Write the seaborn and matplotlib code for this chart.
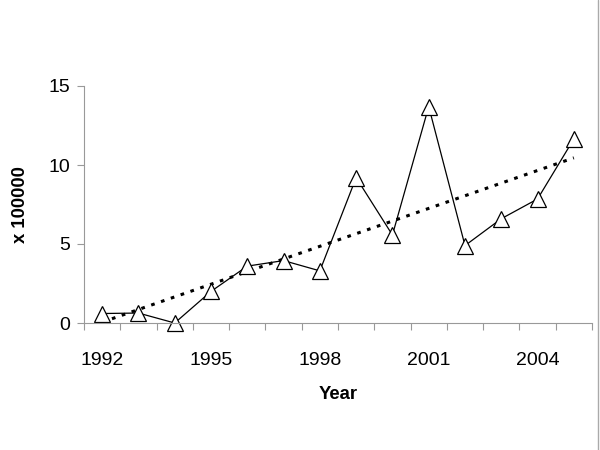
import numpy as np
import pandas as pd
import matplotlib
matplotlib.use("Agg")
import matplotlib.pyplot as plt
import seaborn as sns

# values (units of 100000)
years = [1992, 1993, 1994, 1995, 1996, 1997, 1998, 1999, 2000, 2001, 2002, 2003, 2004, 2005]
values = [0.6, 0.63, 0.0, 2.0, 3.6, 3.95, 3.3, 9.2, 5.57, 13.7, 4.9, 6.6, 7.85, 11.65]
year_labels = [1992, 1995, 1998, 2001, 2004]
y_ticks = [0, 5, 10, 15]

df = pd.DataFrame({"Year": years, "Value": values})

sns.set_theme(style="white")
plt.rcParams["font.family"] = ["Liberation Sans", "DejaVu Sans"]
plt.rcParams["text.color"] = "black"
plt.rcParams["axes.labelcolor"] = "black"
plt.rcParams["xtick.color"] = "black"
plt.rcParams["ytick.color"] = "black"

fig = plt.figure(figsize=(6, 4.5), dpi=100)
ax = fig.add_axes([84 / 600, 1 - 323 / 450, 508 / 600, 237 / 450])

# linear trend (dotted)
sns.regplot(data=df, x="Year", y="Value", scatter=False, ci=None, ax=ax,
            line_kws=dict(color="black", lw=2.2, linestyle=(0, (1.2, 2.2))))

# data series
sns.lineplot(data=df, x="Year", y="Value", ax=ax, color="black", lw=0.9,
             marker="^", markersize=11, markerfacecolor="white",
             markeredgecolor="black", markeredgewidth=0.9, clip_on=False)

ax.set_xlim(years[0] - 0.5, years[-1] + 0.5)
ax.set_ylim(0, 15)

# category-style axis: ticks at boundaries, labels at centres
ax.set_xticks(np.arange(years[0] - 0.5, years[-1] + 1, 1))
ax.set_xticklabels([])
ax.set_xticks(year_labels, minor=True)
ax.set_xticklabels([str(y) for y in year_labels], minor=True)
ax.tick_params(axis="x", which="major", bottom=True, length=5, width=0.8,
               color="#999999", direction="out")
ax.tick_params(axis="x", which="minor", bottom=True, length=0, pad=21,
               labelsize=14, labelcolor="black")
ax.set_yticks(y_ticks)
ax.tick_params(axis="y", left=True, length=5, width=0.8, color="#999999",
               direction="out", labelsize=14, labelcolor="black", pad=5)

for s in ["top", "right"]:
    ax.spines[s].set_visible(False)
for s in ["left", "bottom"]:
    ax.spines[s].set_color("#999999")
    ax.spines[s].set_linewidth(0.8)

ax.set_xlabel("Year", fontsize=13.3, fontweight="bold", labelpad=12, color="black")
ax.set_ylabel("x 100000", fontsize=13.3, fontweight="bold", labelpad=14, color="black")

# chart border line at the right edge
fig.add_artist(plt.Line2D([597.5 / 600, 597.5 / 600], [0, 1], color="#aaaaaa", lw=1))

fig.savefig("out.png", dpi=100)
